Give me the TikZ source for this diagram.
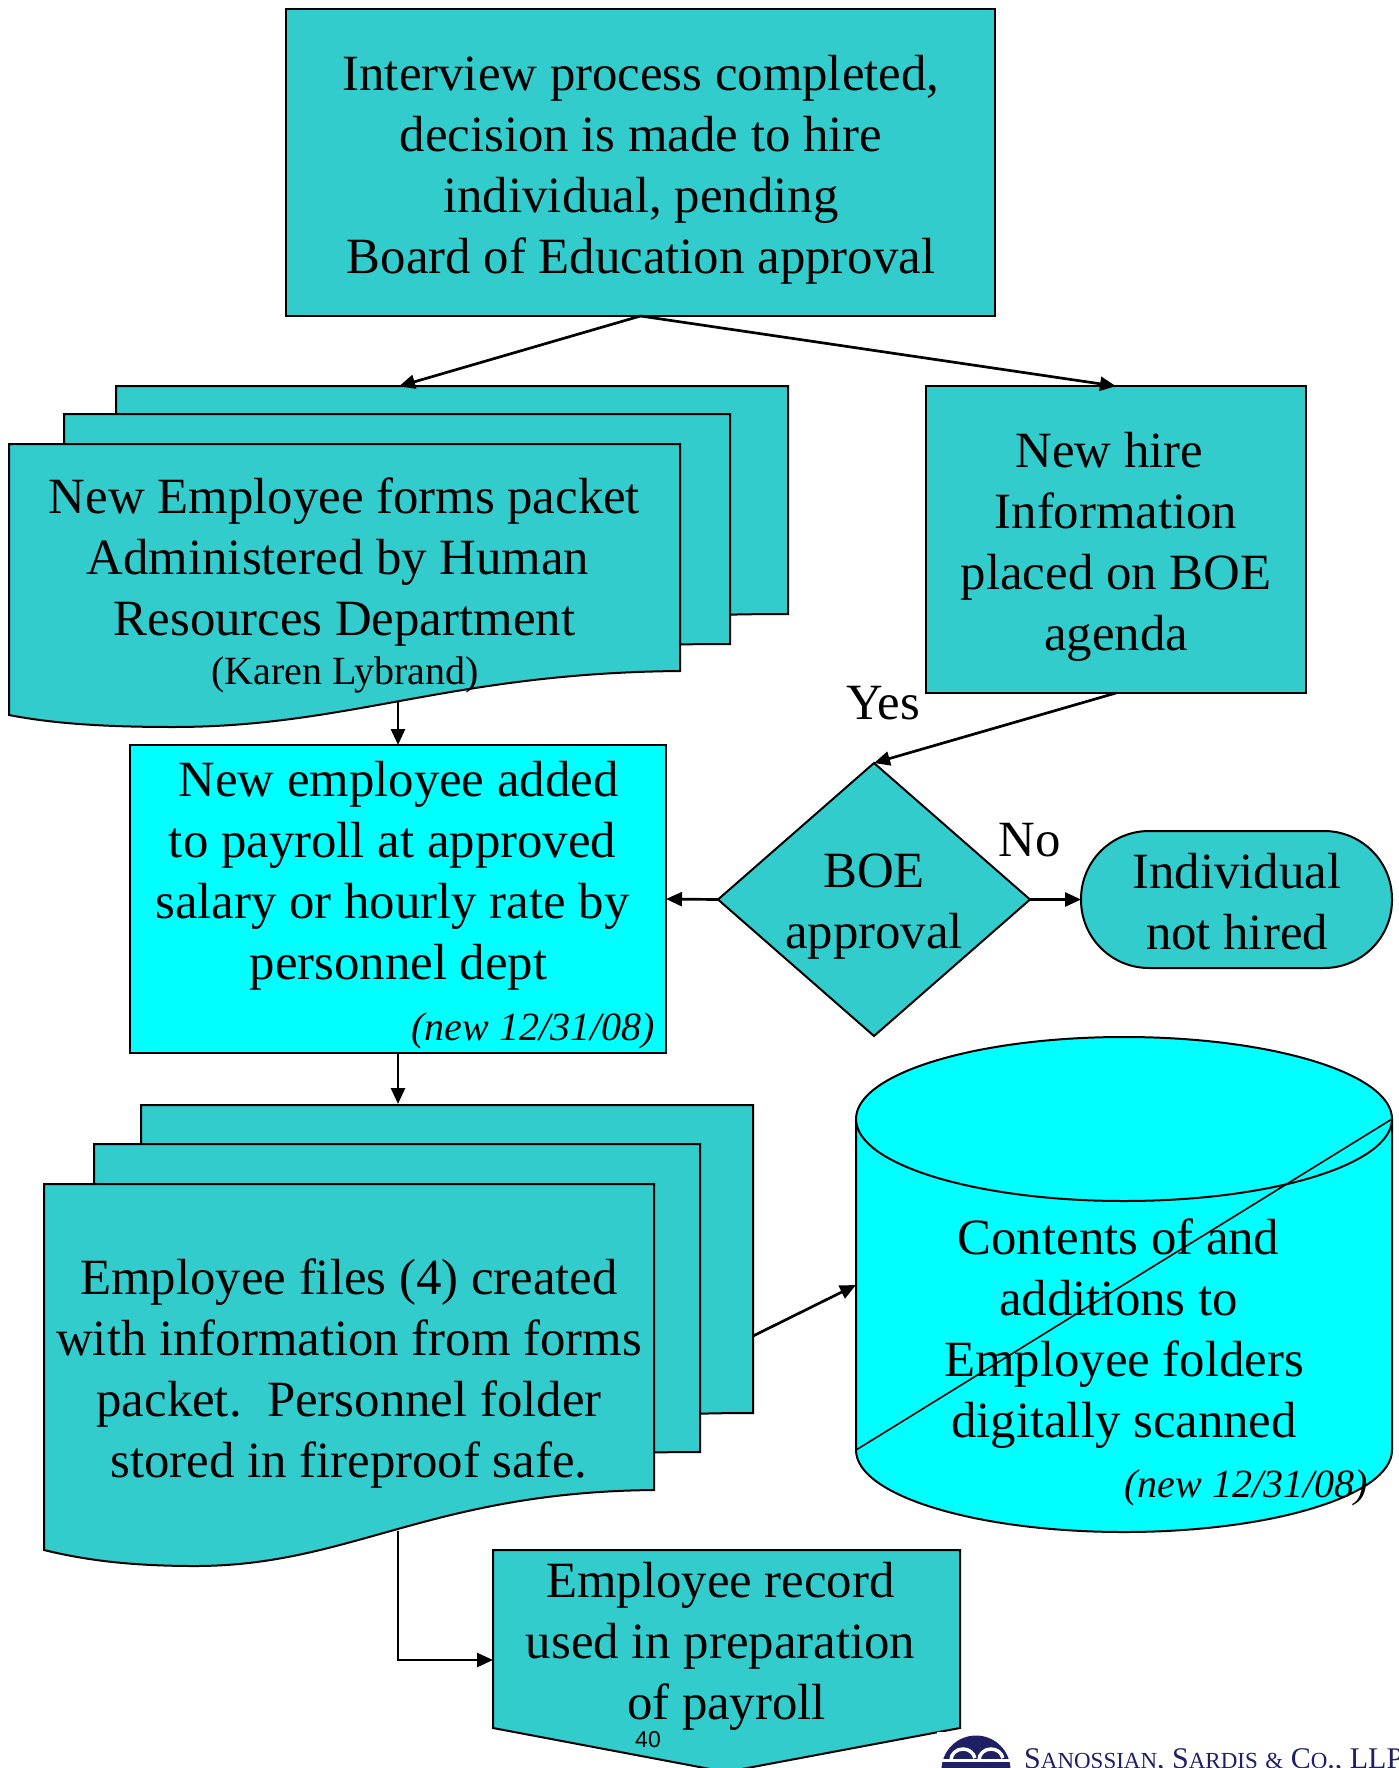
\documentclass[tikz,border=0pt]{standalone}
\usepackage{fontspec}
\setmainfont{Liberation Serif}
\newfontfamily\arialf{Liberation Sans}
\usetikzlibrary{arrows.meta,shapes.geometric}
\definecolor{teal}{HTML}{33CCCC}
\definecolor{aqua}{HTML}{00FFFF}
\definecolor{navy}{HTML}{1F1F63}
\tikzset{
 x=1pt,y=-1pt,
 shp/.style={draw=black,line width=2pt,fill=teal},
 bright/.style={draw=black,line width=2pt,fill=aqua},
 lbl/.style={font=\fontsize{50.8}{61}\selectfont,align=center,inner sep=0pt,text=black},
 note/.style={font=\fontsize{40}{46}\selectfont,inner sep=0pt,text=black},
 itnote/.style={font=\itshape\fontsize{40}{46}\selectfont,inner sep=0pt,text=black,anchor=east},
 link/.style={draw=black,line width=2.7pt,-{Triangle[length=16pt,width=14pt]}},
 boxs/.style={rectangle,inner sep=0pt,outer sep=0pt},
}
\begin{document}
\begin{tikzpicture}
\useasboundingbox (0,0) rectangle (1398,1768);
\clip (0,0) rectangle (1398,1768);
% top box
\node[shp,boxs,minimum width=709pt,minimum height=307pt] (top) at (640.5,162.5) {};
\node[lbl] (toptxt) at (641,169.5) {Interview process completed,\\decision is made to hire\\individual, pending\\Board of Education approval};
% forms packet stack
\path[shp] (116,386) -- (788,386) -- (788,614) .. controls (680,614) and (600,620) .. (540,634) -- (116,634) -- cycle;
\path[shp] (64,414) -- (730,414) -- (730,644) .. controls (620,644) and (540,650) .. (480,664) -- (64,664) -- cycle;
\path[shp] (9,444) -- (680,444) -- (680,671) .. controls (450,673) and (350,727) .. (173,727) .. controls (100,727) and (50,723) .. (9,715) -- cycle;
\coordinate (packetin) at (400,386);
\coordinate (packetout) at (398,701);
\node[lbl] (packettxt) at (344.5,562.5) {New Employee forms packet\\Administered by Human\kern13pt\relax\\Resources Department};
\node[note] (karen) at (345,675) {(Karen Lybrand)};
% new hire
\node[shp,boxs,minimum width=380pt,minimum height=307pt] (hire) at (1116,539.5) {};
\coordinate (hirein) at (1115,386);
\node[lbl] (hiretxt) at (1116,546.5) {New hire\kern13pt\relax\\Information\\placed on BOE\\agenda};
% payroll
\node[bright,boxs,minimum width=536pt,minimum height=308pt] (payroll) at (398,899) {};
\node[lbl] (payrolltxt) at (392.5,875.5) {New employee added\kern-12pt\relax\\to payroll at approved\\salary or hourly rate by\\personnel dept\kern-12pt\relax};
\node[itnote] (newa) at (655,1030.5) {(new 12/31/08)};
% diamond
\node[shp,diamond,inner sep=0pt,outer sep=0pt,minimum width=312pt,minimum height=273pt,aspect=1.14] (boe) at (874,899.5) {};
\node[lbl] (boetxt) at (874,907) {BOE\\approval};
\node[lbl] (yes) at (883,703) {Yes};
\node[lbl] (no) at (1030,840) {No};
% terminal
\node[shp,boxs,rounded corners=68pt,minimum width=311pt,minimum height=137pt] (nothired) at (1236.5,899.5) {};
\node[lbl] (nothiredtxt) at (1237,902) {Individual\\not hired};
% files stack
\path[shp] (141,1105) -- (753,1105) -- (753,1413) .. controls (650,1413) and (580,1420) .. (520,1434) -- (141,1434) -- cycle;
\path[shp] (94,1144) -- (700,1144) -- (700,1452) .. controls (600,1452) and (540,1458) .. (480,1472) -- (94,1472) -- cycle;
\path[shp] (44,1184) -- (654,1184) -- (654,1490) .. controls (430,1492) and (350,1566) .. (195,1566) .. controls (130,1566) and (85,1560) .. (44,1550) -- cycle;
\coordinate (filesin) at (398,1104);
\coordinate (filesout) at (398,1531);
\coordinate (filesright) at (753,1336);
\node[lbl] (filestxt) at (349,1373.5) {Employee files (4) created\\with information from forms\\packet.\ \ Personnel folder\\stored in fireproof safe.};
% cylinder
\fill[aqua] (856,1119) -- (856,1450) arc[start angle=180,end angle=360,x radius=268,y radius=-82] -- (1392,1119) -- cycle;
\draw[black,line width=2pt] (856,1119) -- (856,1450) arc[start angle=180,end angle=360,x radius=268,y radius=-82] -- (1392,1119);
\path[bright] (1124,1119) ellipse[x radius=268,y radius=82];
\coordinate (cylin) at (856,1285);
\coordinate (cyla) at (856,1450);
\coordinate (cylb) at (1392,1119);
\draw[black,line width=1.6pt] (cyla) -- (cylb);
\node[lbl] (cyltxt) at (1124,1333.5) {Contents of and\kern11pt\relax\\additions to\kern11pt\relax\\Employee folders\\digitally scanned};
\node[itnote] (newb) at (1368,1488) {(new 12/31/08)};
% employee record
\path[shp] (493,1550) -- (960,1550) -- (960,1728) -- (726,1772) -- (493,1728) -- cycle;
\coordinate (recin) at (493,1660);
\node[lbl] (rectxt) at (720.5,1646.5) {Employee record\\used in preparation\\of payroll\kern-12pt\relax};
\node[font=\arialf\fontsize{23}{26}\selectfont,inner sep=0pt] (pagenum) at (648,1740) {40};
% logo
\fill[white] (937,1732) rectangle (1398,1768);
\fill[navy] (976,1770) circle[radius=34.5];
\fill[white] (941,1758.5) rectangle (1012,1761.5);
\draw[white,line width=3.5pt] (951,1760) arc[start angle=180,end angle=350,x radius=12,y radius=11];
\draw[white,line width=3.5pt] (979,1760) arc[start angle=180,end angle=350,x radius=12,y radius=11];
\node[anchor=base west,font=\fontsize{30}{30}\selectfont,text=navy,inner sep=0pt] (firm) at (1024,1768) {S{\fontsize{23}{23}\selectfont ANOSSIAN}, S{\fontsize{23}{23}\selectfont ARDIS} {\fontsize{23}{23}\selectfont\&} C{\fontsize{23}{23}\selectfont O}., LLP};
% connectors
\draw[link,shorten >=-1pt] (top.south) -- (packetin);
\draw[link,shorten >=-1pt] (top.south) -- (hirein);
\draw[link] (packetout) -- (payroll.north);
\draw[link] (hire.south) -- (boe.north);
\draw[link] (boe.west) -- (payroll.east);
\draw[link] (boe.east) -- (nothired.west);
\draw[link] (payroll.south) -- (filesin);
\draw[link] (filesright) -- (cylin);
\draw[link] (filesout) |- (recin);
\end{tikzpicture}
\end{document}
